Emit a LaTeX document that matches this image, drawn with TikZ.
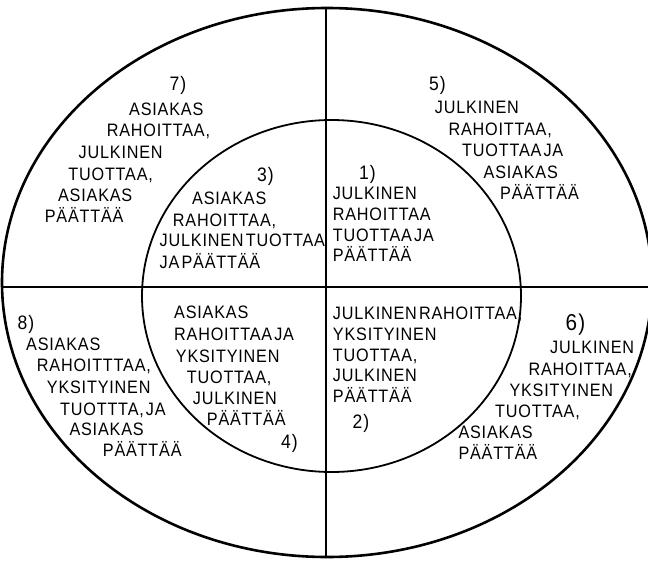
\documentclass[tikz,border=0pt]{standalone}
\usepackage{fontspec}
\setmainfont{Liberation Sans}[FakeStretch=0.9, LetterSpace=4.5, WordSpace=0.4]
\tikzset{
  txt/.style={anchor=base west, inner sep=0pt, font=\fontsize{18}{21}\selectfont},
  num/.style={anchor=base west, inner sep=0pt, font=\fontsize{19.5}{23}\selectfont},
  bignum/.style={anchor=base west, inner sep=0pt, font=\fontsize{23}{27}\selectfont},
  outerline/.style={line width=2.6pt},
  innerline/.style={line width=1.8pt},
  divider/.style={line width=1.4pt}
}
\begin{document}
\begin{tikzpicture}[x=1pt, y=-1pt]
\useasboundingbox (0,0) rectangle (648,560);
% shapes
\coordinate (oc) at (327,282.5);
\coordinate (ic) at (331.5,296);
\coordinate (vtop) at (326,8);
\coordinate (vbot) at (326,557);
\coordinate (hleft) at (2,287);
\coordinate (hright) at (652,287);
\draw[outerline] (oc) ellipse [x radius=325, y radius=274.5];
\draw[innerline] (ic) ellipse [x radius=189.5, y radius=176];
\draw[divider] (vtop) -- (vbot);
\draw[divider] (hleft) -- (hright);
% block 7
\node[num] (n7) at (169.5,90.7) {7)};
\node[txt] (t7a) at (129,115) {ASIAKAS};
\node[txt] (t7b) at (106.6,136.7) {RAHOITTAA,};
\node[txt] (t7c) at (78.5,158.3) {JULKINEN};
\node[txt] (t7d) at (68.2,180) {TUOTTAA,};
\node[txt] (t7e) at (57.9,201.7) {ASIAKAS};
\node[txt] (t7f) at (44.6,222.7) {PÄÄTTÄÄ};
% block 5
\node[num] (n5) at (429,90) {5)};
\node[txt] (t5a) at (434.7,113.3) {JULKINEN};
\node[txt] (t5b) at (448.3,135) {RAHOITTAA,};
\node[txt] (t5c) at (462,156.7) {TUOTTAA JA};
\node[txt] (t5d) at (483.5,178.3) {ASIAKAS};
\node[txt] (t5e) at (500,199.3) {PÄÄTTÄÄ};
% block 3
\node[num] (n3) at (257,181.7) {3)};
\node[txt] (t3a) at (192,204) {ASIAKAS};
\node[txt] (t3b) at (172.7,226) {RAHOITTAA,};
\node[txt] (t3c) at (159.5,246.7) {JULKINEN TUOTTAA};
\node[txt] (t3d) at (159.5,268.3) {JA PÄÄTTÄÄ};
% block 1
\node[num] (n1) at (359,179.3) {1)};
\node[txt] (t1a) at (332.6,199) {JULKINEN};
\node[txt] (t1b) at (332.6,220) {RAHOITTAA};
\node[txt] (t1c) at (332.6,241.7) {TUOTTAA JA};
\node[txt] (t1d) at (332.6,261.7) {PÄÄTTÄÄ};
% block 8
\node[num] (n8) at (17.5,329.3) {8)};
\node[txt] (t8a) at (26,350.7) {ASIAKAS};
\node[txt] (t8b) at (36.7,371.7) {RAHOITTTAA,};
\node[txt] (t8c) at (46.7,393.3) {YKSITYINEN};
\node[txt] (t8d) at (60,415) {TUOTTTA, JA};
\node[txt] (t8e) at (69.3,435) {ASIAKAS};
\node[txt] (t8f) at (102.7,456.7) {PÄÄTTÄÄ};
% block 4
\node[txt] (t4a) at (174,318.3) {ASIAKAS};
\node[txt] (t4b) at (174,340.7) {RAHOITTAA JA};
\node[txt] (t4c) at (175.7,362.3) {YKSITYINEN};
\node[txt] (t4d) at (186.7,383.3) {TUOTTAA,};
\node[txt] (t4e) at (192.7,404) {JULKINEN};
\node[txt] (t4f) at (206.7,425) {PÄÄTTÄÄ};
\node[num] (n4) at (281,448.3) {4)};
% block 2
\node[txt] (t2a) at (332.7,319) {JULKINEN RAHOITTAA,};
\node[txt] (t2b) at (332.7,340.7) {YKSITYINEN};
\node[txt] (t2c) at (332.7,361.7) {TUOTTAA,};
\node[txt] (t2d) at (332.7,381.7) {JULKINEN};
\node[txt] (t2e) at (332.7,402.3) {PÄÄTTÄÄ};
\node[num] (n2) at (352.5,428.3) {2)};
% block 6
\node[bignum] (n6) at (565.5,330.3) {6)};
\node[txt] (t6a) at (550,353.3) {JULKINEN};
\node[txt] (t6b) at (528.3,375) {RAHOITTAA,};
\node[txt] (t6c) at (509.3,396) {YKSITYINEN};
\node[txt] (t6d) at (495,417.7) {TUOTTAA,};
\node[txt] (t6e) at (458.3,438.3) {ASIAKAS};
\node[txt] (t6f) at (458.3,459) {PÄÄTTÄÄ};
\end{tikzpicture}
\end{document}
